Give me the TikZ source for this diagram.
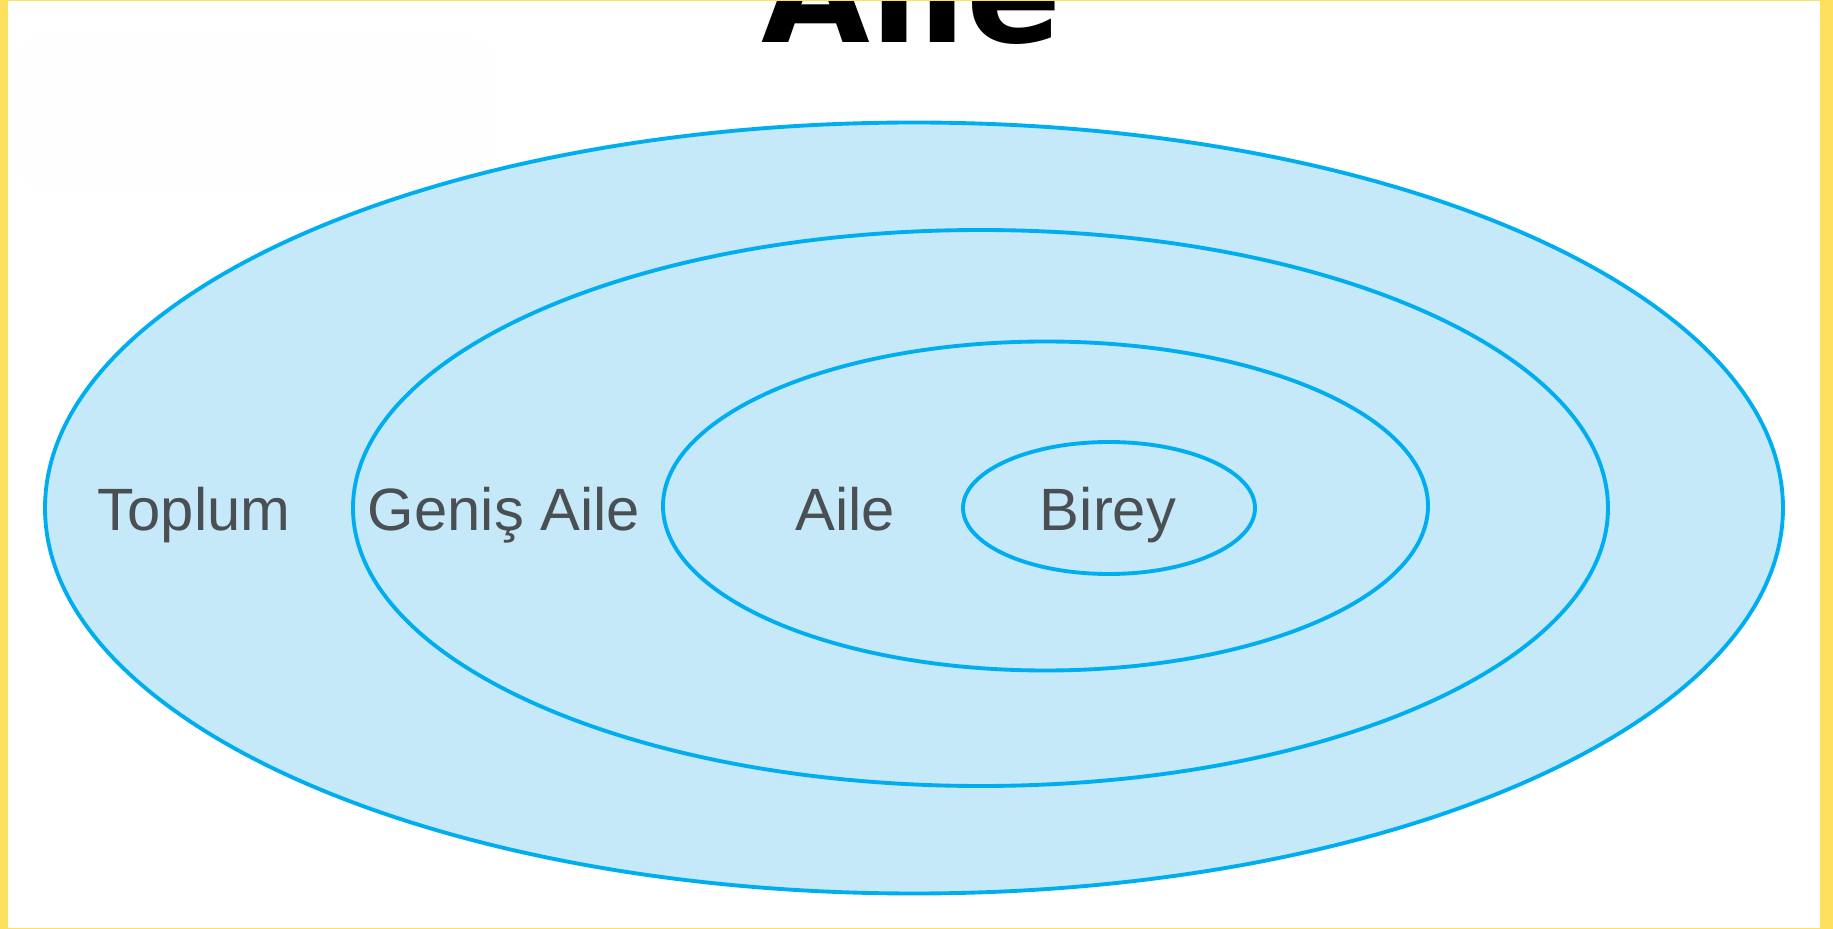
\documentclass[tikz,border=0pt]{standalone}
\usepackage{fontspec}
\setmainfont{Liberation Sans}
\newfontfamily\titlefont{DejaVu Sans}
\usetikzlibrary{calc}
\usetikzlibrary{shapes.geometric}
\usetikzlibrary{positioning}

\definecolor{ringfill}{HTML}{C5E9F9}
\definecolor{ringline}{HTML}{00AEEF}
\definecolor{labelgray}{HTML}{4A4F54}
\definecolor{frameyellow}{HTML}{FFDF5E}
\definecolor{ghostwhite}{HTML}{FEFEFE}

\begin{document}
\begin{tikzpicture}[x=0.1mm,y=-0.1mm,
ring/.style={ellipse,draw=ringline,fill=ringfill,line width=1.1pt,inner sep=0pt,outer sep=0pt},
lbl/.style={anchor=base,text=labelgray,inner sep=0pt,font=\fontsize{17}{20}\selectfont}]

\useasboundingbox (0,0) rectangle (1833,929);
\fill[white] (0,0) rectangle (1833,929);
\fill[ghostwhite,rounded corners=4mm] (13,33) rectangle (497,193);

\node[anchor=base,font=\titlefont\bfseries\fontsize{40}{48}\selectfont] (title) at (912,43) {Aile};

\node[ring,minimum width=173.8mm,minimum height=77.1mm] (toplum) at (914,508) {};
\node[ring,minimum width=125.5mm,minimum height=55.6mm] (genis) at (980.5,508) {};
\node[ring,minimum width=76.5mm,minimum height=32.9mm] (aile) at (1045.5,506) {};
\node[ring,minimum width=29.2mm,minimum height=13.2mm] (birey) at (1109,508) {};

\node[lbl] (toplumtxt) at (194,530) {Toplum};
\node[lbl] (genistxt) at (504,530) {Geniş Aile};
\node[lbl] (ailetxt) at (845,530) {Aile};
\node[lbl] (bireytxt) at (1108,530) {Birey};

\fill[frameyellow] (0,0) rectangle (8,929);
\fill[frameyellow] (1820,0) rectangle (1833,929);
\fill[frameyellow] (0,0) rectangle (1833,1.5);
\fill[frameyellow] (0,927.5) rectangle (1833,929);

\end{tikzpicture}
\end{document}
